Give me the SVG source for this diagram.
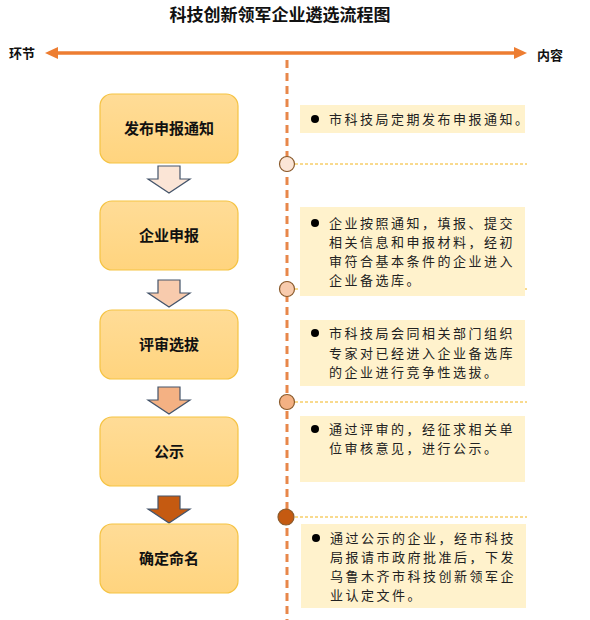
<svg xmlns="http://www.w3.org/2000/svg" width="590" height="620" viewBox="0 0 590 620">
<defs>
<linearGradient id="boxg" x1="0" y1="0" x2="0" y2="1">
<stop offset="0" stop-color="#FFDC97"/>
<stop offset="1" stop-color="#FFD47E"/>
</linearGradient>
</defs>
<style>
.title{font-family:"Liberation Serif","Noto Sans CJK SC",serif;font-weight:bold;font-size:17px;fill:#111}
.axis{font-family:"Liberation Serif","Noto Sans CJK SC",serif;font-weight:bold;font-size:13px;fill:#111}
.step rect{fill:url(#boxg);stroke:#F5C343;stroke-width:1.2}
.step text{font-family:"Noto Sans CJK SC",sans-serif;font-weight:bold;font-size:15px;fill:#111;text-anchor:middle}
.desc rect{fill:#FFF2CC}
.desc text{font-family:"Noto Sans CJK SC",sans-serif;font-size:13px;letter-spacing:2.5px;fill:#222}
.desc circle{fill:#000}
.blk{stroke:#44546A;stroke-width:1.2;stroke-linejoin:miter}
.dot{stroke:#8A5A2C;stroke-width:1.2}
.hdash{stroke:#F2B51C;stroke-width:1;stroke-dasharray:3 2;fill:none}
</style>
<text class="title" x="280" y="21" text-anchor="middle">科技创新领军企业遴选流程图</text>
<g id="axis">
<line x1="53" y1="53" x2="519" y2="53" stroke="#ED7D31" stroke-width="3.5"/>
<polygon points="45,53 58,47 58,59" fill="#ED7D31"/>
<polygon points="527,53 514,47 514,59" fill="#ED7D31"/>
<text class="axis" x="9" y="58">环节</text>
<text class="axis" x="537" y="60">内容</text>
</g>
<g id="connectors">
<line x1="287" y1="60" x2="287" y2="620" stroke="#E8874A" stroke-width="3" stroke-dasharray="8 5"/>
<line class="hdash" x1="295" y1="164" x2="527" y2="164"/>
<line class="hdash" x1="295" y1="289" x2="527" y2="289"/>
<line class="hdash" x1="295" y1="402" x2="527" y2="402"/>
<line class="hdash" x1="295" y1="517" x2="527" y2="517"/>
<path class="blk" fill="#FBE5D6" d="M158,166 H180 V179 H190 L169,193 L148,179 H158 Z"/>
<path class="blk" fill="#F8CBAD" d="M158,280 H180 V293 H190 L169,307 L148,293 H158 Z"/>
<path class="blk" fill="#F4B183" d="M158,387 H180 V400 H190 L169,414 L148,400 H158 Z"/>
<path class="blk" fill="#C55A11" d="M158,496 H180 V509 H190 L169,523 L148,509 H158 Z"/>
<circle class="dot" cx="287" cy="164" r="7.5" fill="#FBE5D6"/>
<circle class="dot" cx="287" cy="289" r="7.5" fill="#F8CBAD"/>
<circle class="dot" cx="287" cy="402" r="7.5" fill="#F4B183"/>
<circle class="dot" cx="286" cy="517" r="8" fill="#C55A11"/>
</g>
<g id="step1" class="step"><rect x="100" y="94" width="138" height="69" rx="12"/><text x="169" y="134">发布申报通知</text></g>
<g id="step2" class="step"><rect x="100" y="201" width="138" height="69" rx="12"/><text x="169" y="241">企业申报</text></g>
<g id="step3" class="step"><rect x="100" y="310" width="138" height="69" rx="12"/><text x="169" y="350">评审选拔</text></g>
<g id="step4" class="step"><rect x="100" y="417" width="138" height="69" rx="12"/><text x="169" y="457">公示</text></g>
<g id="step5" class="step"><rect x="100" y="524" width="138" height="69" rx="12"/><text x="169" y="564">确定命名</text></g>
<g id="desc1" class="desc"><rect x="300" y="105" width="225" height="28"/><circle cx="315" cy="119" r="4"/><text x="329" y="124">市科技局定期发布申报通知。</text></g>
<g id="desc2" class="desc"><rect x="300" y="207" width="225" height="89"/><circle cx="315" cy="223" r="4"/>
<text x="329" y="228">企业按照通知，填报、提交</text>
<text x="329" y="247">相关信息和申报材料，经初</text>
<text x="329" y="266">审符合基本条件的企业进入</text>
<text x="329" y="285">企业备选库。</text></g>
<g id="desc3" class="desc"><rect x="300" y="320" width="225" height="66"/><circle cx="315" cy="333" r="4"/>
<text x="329" y="338">市科技局会同相关部门组织</text>
<text x="329" y="357.5">专家对已经进入企业备选库</text>
<text x="329" y="377">的企业进行竞争性选拔。</text></g>
<g id="desc4" class="desc"><rect x="300" y="416" width="225" height="66"/><circle cx="315" cy="429" r="4"/>
<text x="329" y="434">通过评审的，经征求相关单</text>
<text x="329" y="453">位审核意见，进行公示。</text></g>
<g id="desc5" class="desc"><rect x="301" y="524" width="225" height="84"/><circle cx="316" cy="538" r="4"/>
<text x="330" y="543">通过公示的企业，经市科技</text>
<text x="330" y="562">局报请市政府批准后，下发</text>
<text x="330" y="581">乌鲁木齐市科技创新领军企</text>
<text x="330" y="600">业认定文件。</text></g>
</svg>
